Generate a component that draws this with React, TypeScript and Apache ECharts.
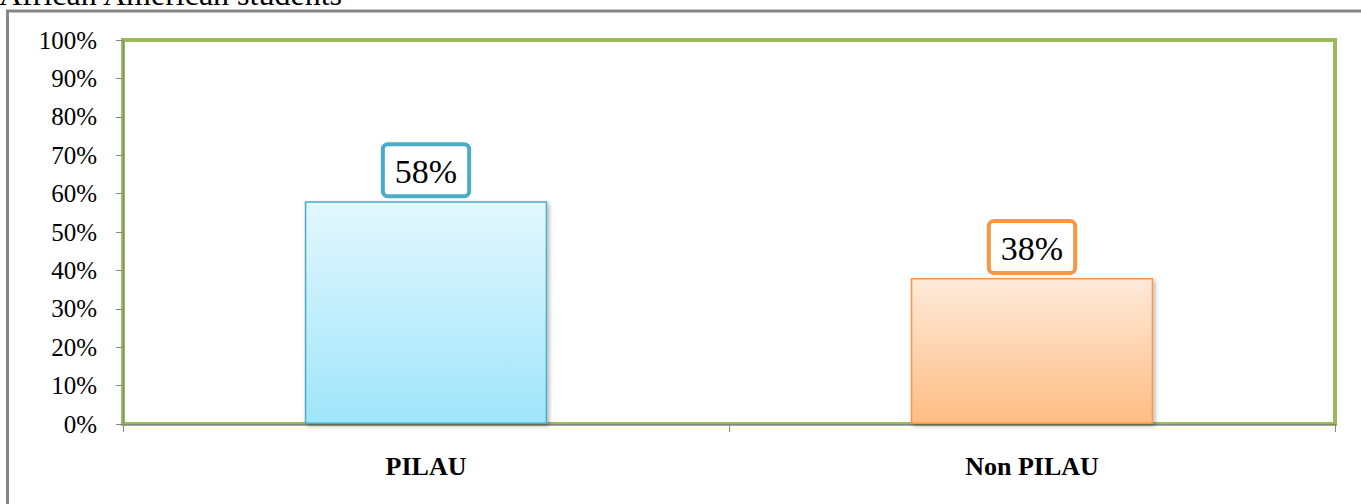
import React, { useEffect, useRef } from "react";
import * as echarts from "echarts";

const titleText = "African American students";
const categories = ["PILAU", "Non PILAU"];
const values = [58, 38];
const yTicks = { min: 0, max: 100, interval: 10 };

const SERIF = "Liberation Serif";

export default function App() {
  const ref = useRef<HTMLDivElement>(null);
  useEffect(() => {
    const chart = echarts.init(ref.current!, null, { renderer: "svg" });
    const styles = [
      { top: "#E3F7FD", bottom: "#9FE5FA", border: "#4BACC6" },
      { top: "#FDEADA", bottom: "#FFBD84", border: "#F79646" },
    ];
    chart.setOption({
      animation: false,
      backgroundColor: "#ffffff",
      textStyle: { fontFamily: SERIF },
      graphic: [
        {
          type: "rect",
          shape: { x: 7.5, y: 11, width: 1400, height: 600 },
          style: { fill: "none", stroke: "#868686", lineWidth: 3 },
          z: 0,
        },
        {
          type: "text",
          x: -1,
          y: 10,
          style: {
            text: titleText,
            fontSize: 32,
            fontFamily: SERIF,
            fill: "#000",
            verticalAlign: "bottom",
          },
        },
      ],
      grid: {
        left: 123,
        right: 26,
        top: 40,
        bottom: 80,
        show: true,
        borderColor: "#9BBB59",
        borderWidth: 4,
        backgroundColor: "#ffffff",
      },
      xAxis: {
        type: "category",
        data: categories,
        boundaryGap: true,
        axisLine: { show: true, lineStyle: { color: "#868686", width: 1 } },
        axisTick: { show: true, length: 8, lineStyle: { color: "#868686" } },
        axisLabel: {
          margin: 29,
          fontSize: 26,
          fontWeight: "bold",
          fontFamily: SERIF,
          color: "#000",
        },
      },
      yAxis: {
        type: "value",
        min: yTicks.min,
        max: yTicks.max,
        interval: yTicks.interval,
        splitLine: { show: false },
        axisLine: { show: true, lineStyle: { color: "#868686", width: 1 } },
        axisTick: { show: true, length: 7, lineStyle: { color: "#868686" } },
        axisLabel: {
          formatter: "{value}%",
          margin: 26,
          fontSize: 25,
          fontFamily: SERIF,
          color: "#000",
        },
      },
      series: [
        {
          type: "bar",
          barWidth: "40%",
          label: {
            show: true,
            position: "top",
            distance: 7,
            formatter: "{c}%",
            fontSize: 34,
            fontFamily: SERIF,
            fontWeight: "normal",
            color: "#000",
            backgroundColor: "#ffffff",
            borderWidth: 4,
            borderRadius: 3,
            padding: [8, 10, 6, 10],
            lineHeight: 34,
          },
          data: values.map((v, i) => ({
            value: v,
            itemStyle: {
              color: new echarts.graphic.LinearGradient(0, 0, 0, 1, [
                { offset: 0, color: styles[i].top },
                { offset: 1, color: styles[i].bottom },
              ]),
              borderColor: styles[i].border,
              borderWidth: 1.5,
              shadowBlur: 4,
              shadowColor: "rgba(0,0,0,0.3)",
              shadowOffsetX: 2,
              shadowOffsetY: 2,
            },
            label: {
              borderColor: styles[i].border,
            },
          })),
        },
      ],
    });
    return () => chart.dispose();
  }, []);
  return (
    <div
      ref={ref}
      style={{ position: "absolute", left: 0, top: 0, width: 1361, height: 504 }}
    />
  );
}
